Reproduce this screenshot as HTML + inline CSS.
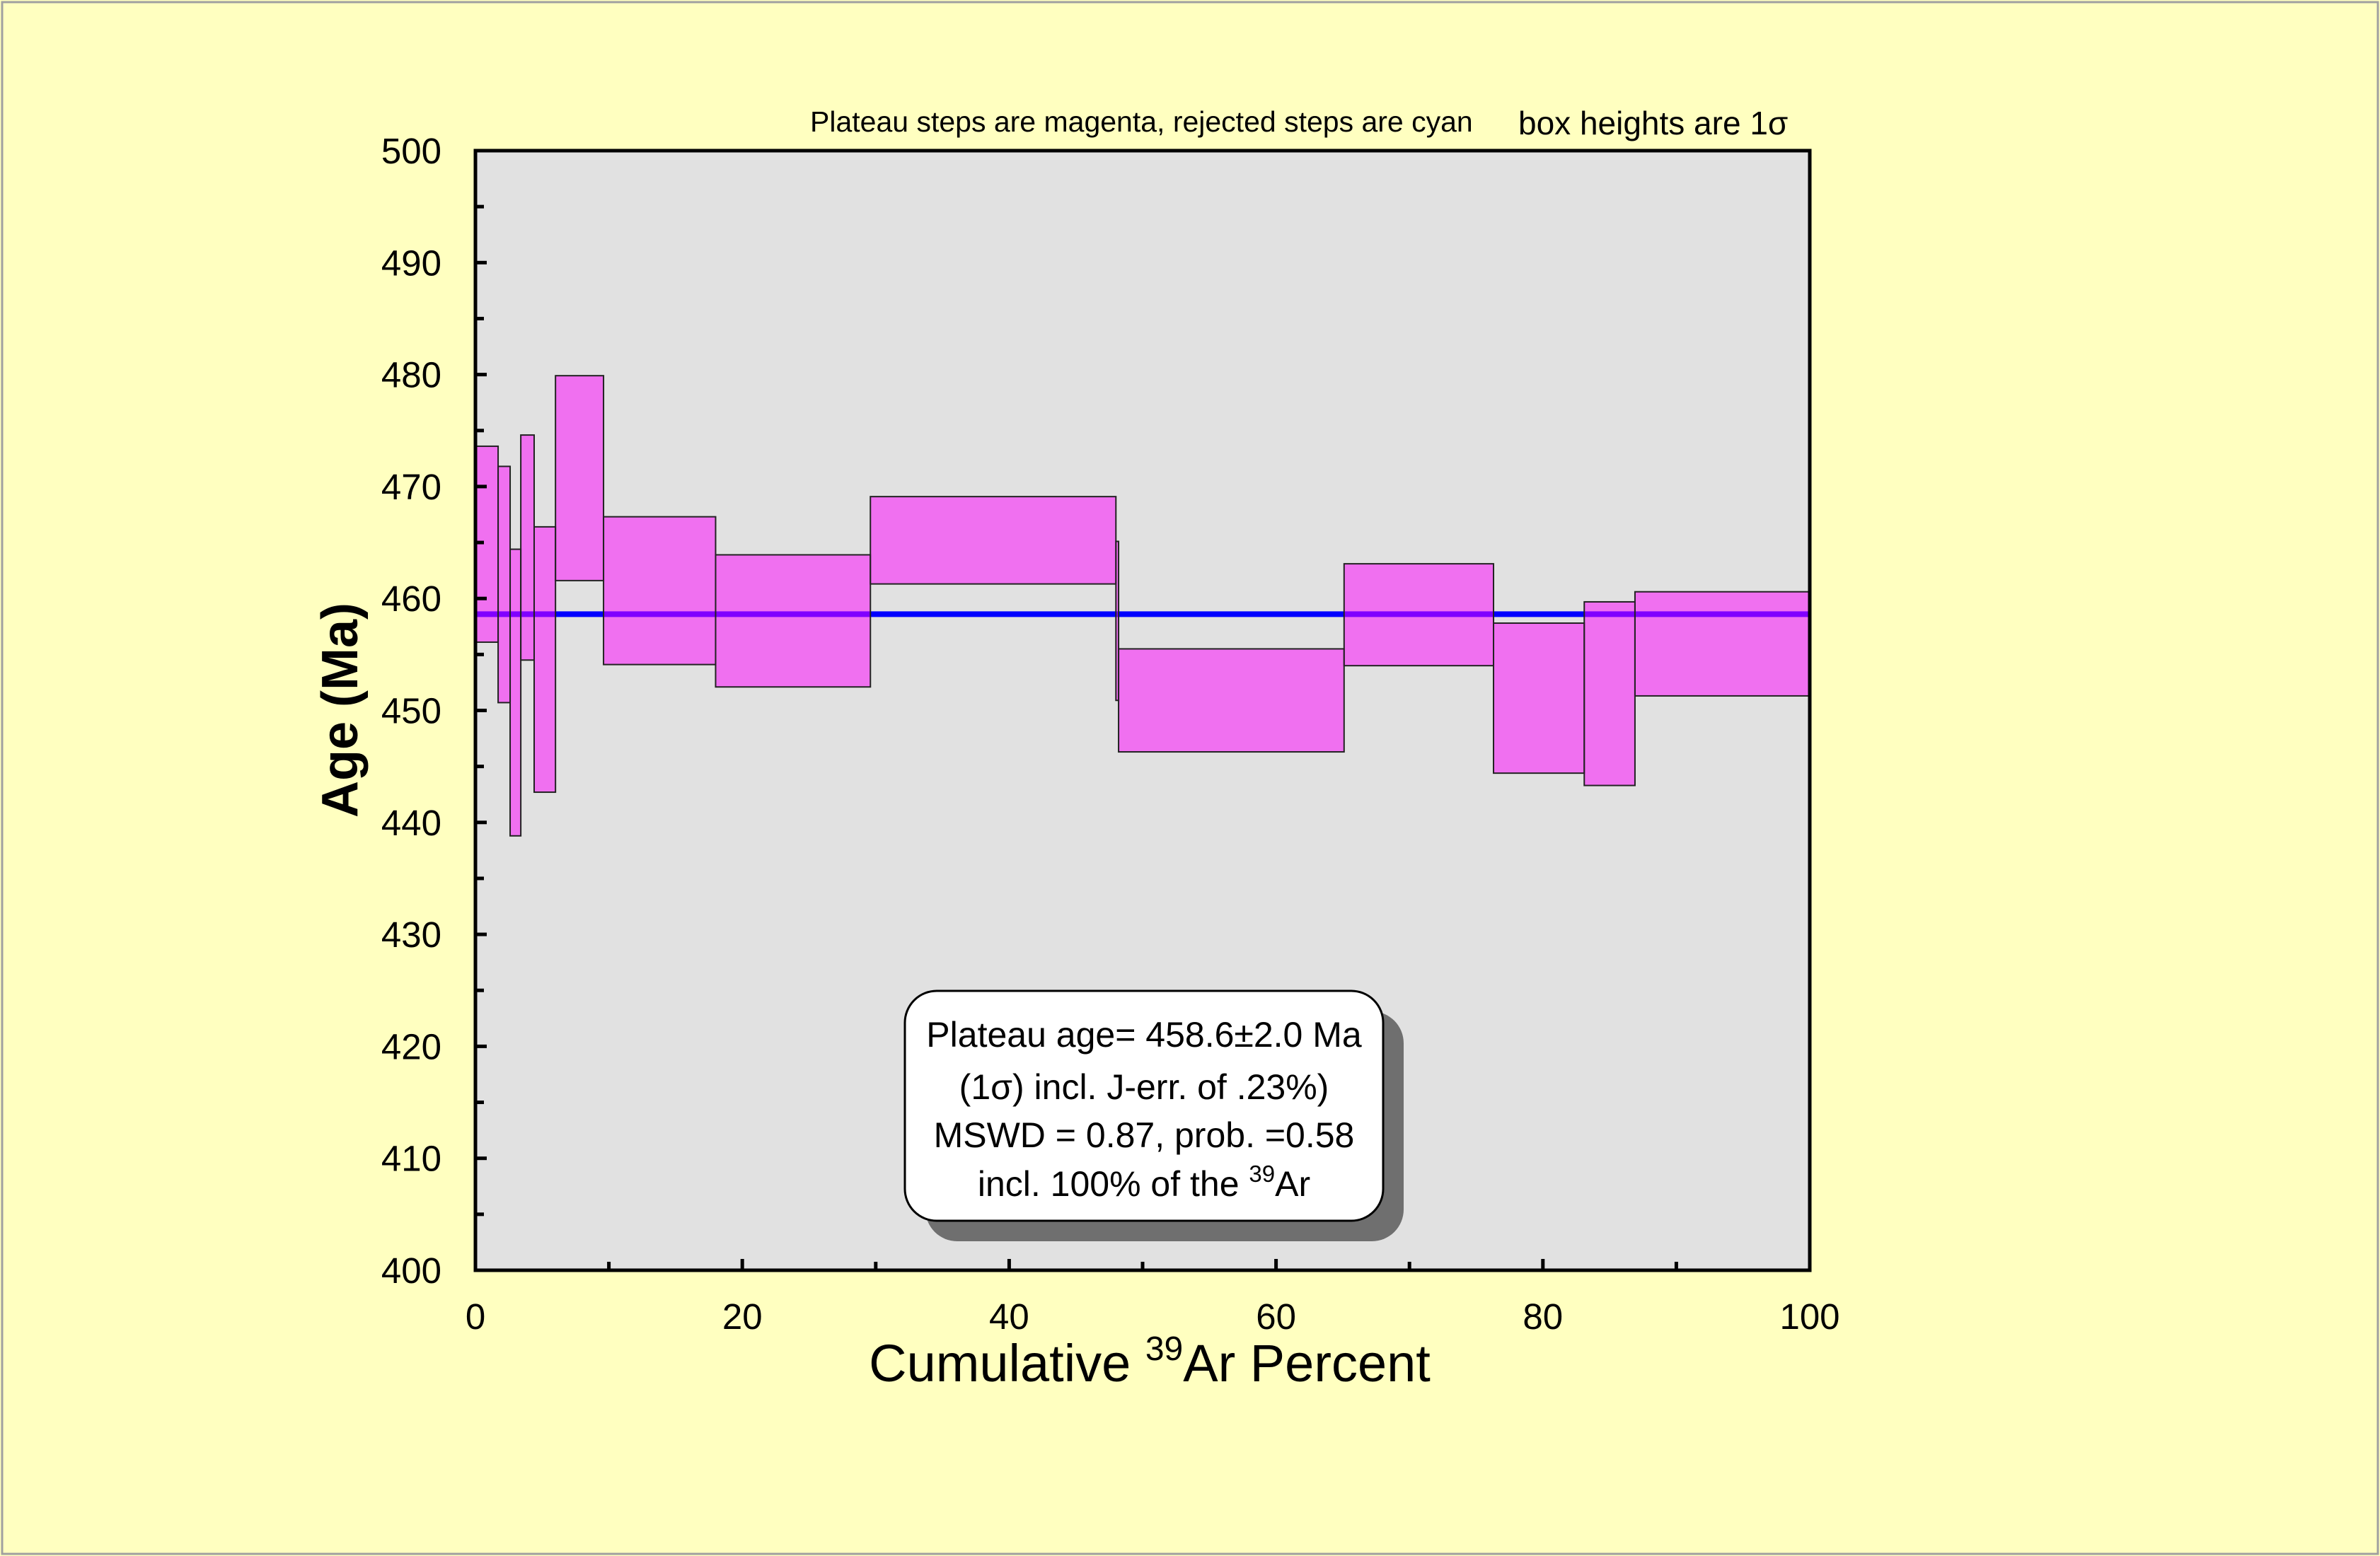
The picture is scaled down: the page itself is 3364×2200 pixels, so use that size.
<!DOCTYPE html>
<html><head><meta charset="utf-8"><style>
html,body{margin:0;padding:0;background:#ffffc0;}
svg{display:block;font-family:"Liberation Sans",sans-serif;}
</style></head><body>
<svg id="chart" width="3364" height="2200" viewBox="0 0 3364 2200" xmlns="http://www.w3.org/2000/svg">
<rect x="3" y="3" width="3358" height="2194" fill="#ffffc0" stroke="#a0a0a0" stroke-width="3"/>
<rect x="672" y="213" width="1886" height="1583" fill="#e1e1e1"/>
<g id="marks"></g>
<rect x="672" y="213" width="1886" height="1583" fill="none" stroke="#000" stroke-width="5"/>
<g id="axes"></g>
<text x="1145" y="186" font-size="41">Plateau steps are magenta, rejected steps are cyan</text>
<text x="2146" y="190" font-size="46">box heights are 1σ</text>
<text x="1625" y="1953" font-size="74" text-anchor="middle">Cumulative <tspan font-size="48" dy="-30">39</tspan><tspan dy="30">Ar Percent</tspan></text>
<text transform="translate(505,1004) rotate(-90)" font-size="72" font-weight="bold" text-anchor="middle">Age (Ma)</text>
<g>
<rect x="1308" y="1430" width="676" height="325" rx="45" fill="#6f6f6f"/>
<rect x="1279" y="1401" width="676" height="325" rx="45" fill="#fff" stroke="#000" stroke-width="3"/>
<text x="1617" y="1480" font-size="50" text-anchor="middle">Plateau age= 458.6±2.0 Ma</text>
<text x="1617" y="1554" font-size="50" text-anchor="middle">(1σ) incl. J-err. of .23%)</text>
<text x="1617" y="1622" font-size="50" text-anchor="middle">MSWD = 0.87, prob. =0.58</text>
<text x="1617" y="1691" font-size="50" text-anchor="middle">incl. 100% of the <tspan font-size="33" dy="-20">39</tspan><tspan dy="20">Ar</tspan></text>
</g>
</svg>
<script>
const stepStart=[0,1.7,2.6,3.4,4.4,6.0,9.6,18.0,29.6,48.0,48.2,65.1,76.3,83.1,86.9];
const stepEnd=[1.7,2.6,3.4,4.4,6.0,9.6,18.0,29.6,48.0,48.2,65.1,76.3,83.1,86.9,100];
const stepTop=[473.6,471.8,464.4,474.6,466.4,479.9,467.3,463.9,469.1,465.1,455.5,463.1,457.8,459.7,460.6];
const stepBottom=[456.1,450.7,438.8,454.5,442.7,461.6,454.1,452.1,461.3,450.9,446.3,454.0,444.4,443.3,451.3];
const plateauAge=[458.6];
const xTicks=[0,20,40,60,80,100];
const yTicks=[400,410,420,430,440,450,460,470,480,490,500];
const NS="http://www.w3.org/2000/svg";
const X0=672,X1=2558,Y0=1796,Y1=213;
const sx=v=>X0+(v-0)/(100-0)*(X1-X0);
const sy=v=>Y0-(v-400)/(500-400)*(Y0-Y1);
function mk(t,a,p){const e=document.createElementNS(NS,t);for(const k in a)e.setAttribute(k,a[k]);p.appendChild(e);return e;}
const marks=document.getElementById('marks'),axes=document.getElementById('axes');
const pl=mk('line',{x1:sx(0),x2:sx(100),y1:sy(plateauAge[0]),y2:sy(plateauAge[0]),stroke:'#0000ff','stroke-width':8},marks);


for(let i=0;i<stepStart.length;i++){
 const r=mk('rect',{x:sx(stepStart[i]),y:sy(stepTop[i]),width:Math.max(1,sx(stepEnd[i])-sx(stepStart[i])),height:sy(stepBottom[i])-sy(stepTop[i]),fill:'rgba(255,0,255,0.5)',stroke:'#222','stroke-width':2},marks);
 
 
}
for(let v=400;v<=500;v+=5){
 const major=v%10===0;
 const t=mk('line',{x1:X0,x2:X0+(major?16:12),y1:sy(v),y2:sy(v),stroke:'#000','stroke-width':5},axes);
 
 
}
yTicks.forEach(v=>{
 const t=mk('text',{x:624,y:sy(v)+18,'font-size':51,'text-anchor':'end'},axes);t.textContent=v;
 
 
});
for(let v=0;v<=100;v+=10){
 const major=v%20===0;
 const t=mk('line',{x1:sx(v),x2:sx(v),y1:Y0,y2:Y0-(major?16:12),stroke:'#000','stroke-width':5},axes);
 
 
}
xTicks.forEach(v=>{
 const t=mk('text',{x:sx(v),y:1879,'font-size':51,'text-anchor':'middle'},axes);t.textContent=v;
 
 
});
</script>
</body></html>
